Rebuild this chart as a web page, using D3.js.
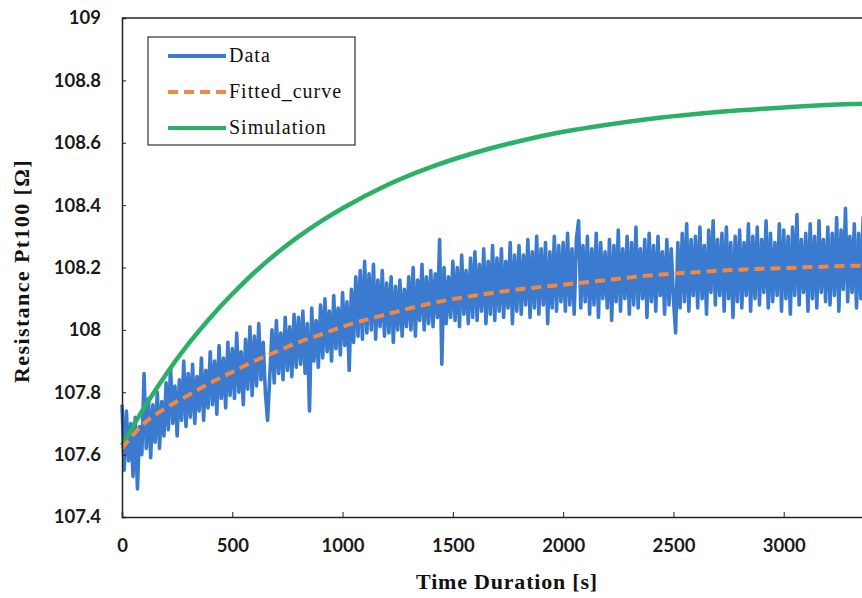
<!DOCTYPE html>
<html>
<head>
<meta charset="utf-8">
<script src="https://cdn.jsdelivr.net/npm/d3@7"></script>
<style>
  body { margin: 0; background: #fff; overflow: hidden; }
  svg { display: block; }
  .tick text { font-family: Lato, "Open Sans", sans-serif; font-weight: bold; font-size: 18.5px; fill: #1a1a1a; }
  .title { font-family: "Liberation Serif", "DejaVu Serif", serif; font-weight: bold; font-size: 22px; fill: #111; }
  .legend text { font-family: "Liberation Serif", "DejaVu Serif", serif; font-size: 20px; letter-spacing: 1px; fill: #111; }
</style>
</head>
<body>
<script>
// chart size
const w = 862
const h = 598

// x ticks and y ticks
const xTicks = [0, 500, 1000, 1500, 2000, 2500, 3000]
const yTicks = [107.4, 107.6, 107.8, 108, 108.2, 108.4, 108.6, 108.8, 109]

// measured data, one value every 10 s starting at 0
const dataStep = 10
const dataValues = [
  107.76, 107.55, 107.74, 107.58, 107.70, 107.53, 107.72, 107.49, 107.69, 107.60,
  107.86, 107.62, 107.78, 107.59, 107.76, 107.64, 107.80, 107.62, 107.77, 107.66,
  107.83, 107.68, 107.88, 107.70, 107.82, 107.66, 107.84, 107.71, 107.90, 107.69,
  107.86, 107.72, 107.89, 107.70, 107.85, 107.74, 107.91, 107.71, 107.87, 107.75,
  107.93, 107.76, 107.90, 107.73, 107.95, 107.78, 107.91, 107.75, 107.96, 107.79,
  107.94, 107.78, 107.99, 107.80, 107.93, 107.76, 107.97, 107.81, 108.01, 107.79,
  107.98, 107.82, 108.02, 107.84, 107.96, 107.80, 107.71, 107.85, 108.00, 107.83,
  108.03, 107.86, 107.99, 107.84, 108.04, 107.87, 108.01, 107.85, 108.05, 107.88,
  108.04, 107.89, 108.06, 107.86, 108.02, 107.74, 108.07, 107.90, 108.03, 107.88,
  108.08, 107.91, 108.10, 107.93, 108.06, 107.90, 108.11, 107.94, 108.07, 107.92,
  108.12, 107.95, 108.09, 107.87, 108.13, 107.96, 108.17, 107.98, 108.19, 107.97,
  108.22, 107.99, 108.18, 108.00, 108.21, 107.97, 108.16, 108.01, 108.19, 107.98,
  108.15, 107.99, 108.17, 107.96, 108.14, 108.00, 108.16, 107.98, 108.13, 108.01,
  108.17, 108.00, 108.20, 107.98, 108.16, 108.03, 108.21, 108.00, 108.17, 108.02,
  108.19, 108.01, 108.18, 108.04, 108.29, 107.89, 108.20, 108.02, 108.17, 108.04,
  108.22, 108.03, 108.20, 108.01, 108.24, 108.05, 108.19, 108.02, 108.23, 108.04,
  108.25, 108.03, 108.21, 108.06, 108.26, 108.02, 108.22, 108.05, 108.27, 108.03,
  108.23, 108.06, 108.26, 108.04, 108.22, 108.07, 108.28, 108.02, 108.24, 108.06,
  108.27, 108.05, 108.24, 108.08, 108.29, 108.04, 108.25, 108.07, 108.30, 108.05,
  108.26, 108.08, 108.28, 108.02, 108.25, 108.07, 108.30, 108.06, 108.27, 108.09,
  108.28, 108.06, 108.31, 108.08, 108.26, 108.05, 108.29, 108.35, 108.07, 108.27,
  108.09, 108.30, 108.05, 108.26, 108.08, 108.31, 108.04, 108.28, 108.10, 108.25,
  108.07, 108.29, 108.03, 108.27, 108.09, 108.32, 108.06, 108.26, 108.10, 108.30,
  108.05, 108.28, 108.08, 108.33, 108.07, 108.26, 108.10, 108.29, 108.04, 108.31,
  108.09, 108.27, 108.06, 108.30, 108.11, 108.25, 108.05, 108.29, 108.08, 108.26,
  108.10, 107.99, 108.28, 108.07, 108.31, 108.09, 108.34, 108.06, 108.29, 108.11,
  108.30, 108.07, 108.33, 108.10, 108.27, 108.05, 108.32, 108.12, 108.35, 108.08,
  108.29, 108.11, 108.31, 108.06, 108.33, 108.10, 108.28, 108.04, 108.30, 108.09,
  108.32, 108.07, 108.28, 108.11, 108.34, 108.06, 108.30, 108.10, 108.33, 108.08,
  108.29, 108.12, 108.35, 108.07, 108.31, 108.09, 108.28, 108.11, 108.34, 108.06,
  108.32, 108.10, 108.30, 108.05, 108.33, 108.11, 108.37, 108.08, 108.29, 108.12,
  108.31, 108.06, 108.34, 108.10, 108.30, 108.07, 108.35, 108.12, 108.29, 108.09,
  108.33, 108.08, 108.31, 108.11, 108.36, 108.06, 108.32, 108.13, 108.39, 108.09,
  108.30, 108.12, 108.34, 108.07, 108.31, 108.10, 108.36, 108.13, 108.32, 108.08,
  108.33
]

// fitted curve and simulation
const curveTimes = [0, 100, 200, 300, 400, 500, 600, 700, 800, 900, 1000, 1200, 1400, 1600, 1800, 2000, 2200, 2400, 2600, 2800, 3000, 3200, 3400, 3500]
const fittedValues = [107.62, 107.70, 107.75, 107.79, 107.83, 107.865, 107.90, 107.93, 107.96, 107.985, 108.01, 108.05, 108.085, 108.11, 108.13, 108.145, 108.16, 108.175, 108.185, 108.193, 108.198, 108.203, 108.207, 108.209]
const simValues = [107.63, 107.75, 107.858, 107.954, 108.039, 108.115, 108.184, 108.245, 108.299, 108.347, 108.39, 108.464, 108.522, 108.568, 108.605, 108.635, 108.658, 108.677, 108.692, 108.704, 108.713, 108.721, 108.726, 108.729]

const seriesNames = ['Data', 'Fitted_curve', 'Simulation']
const colors = ['#3a7bcf', '#f5883e', '#2bb068']

// plot area
const plotLeft = 122, plotRight = 894, plotTop = 18, plotBottom = 517
const xScale = d3.scaleLinear().domain([0, 3500]).range([plotLeft, plotRight])
const yScale = d3.scaleLinear().domain([107.4, 109]).range([plotBottom, plotTop])

const svg = d3.select('body').append('svg')
  .attr('width', w)
  .attr('height', h)

const plot = svg.append('g')

const line = d3.line()
  .x(d => xScale(d[0]))
  .y(d => yScale(d[1]))

const dataPts = dataValues.map((v, i) => [i * dataStep, v])
const fitPts = curveTimes.map((t, i) => [t, fittedValues[i]])
const simPts = curveTimes.map((t, i) => [t, simValues[i]])

plot.append('path')
  .datum(dataPts)
  .attr('d', line)
  .attr('fill', 'none')
  .attr('stroke', colors[0])
  .attr('stroke-width', 3.6)
  .attr('stroke-linejoin', 'round')

const smooth = d3.line()
  .curve(d3.curveMonotoneX)
  .x(d => xScale(d[0]))
  .y(d => yScale(d[1]))

plot.append('path')
  .datum(simPts)
  .attr('d', smooth)
  .attr('fill', 'none')
  .attr('stroke', colors[2])
  .attr('stroke-width', 4.5)

plot.append('path')
  .datum(fitPts)
  .attr('d', smooth)
  .attr('fill', 'none')
  .attr('stroke', colors[1])
  .attr('stroke-width', 4)
  .attr('stroke-dasharray', '10,6')

// axes
const yAxis = d3.axisLeft(yScale)
  .tickValues(yTicks)
  .tickSize(-4)
  .tickPadding(21)
  .tickFormat(d3.format('~g'))

svg.append('g')
  .attr('transform', `translate(${plotLeft},0)`)
  .call(yAxis)
  .call(g => g.select('.domain').attr('stroke', '#222').attr('stroke-width', 1.5))
  .call(g => g.selectAll('.tick line').attr('stroke', '#222'))

const xAxis = d3.axisBottom(xScale)
  .tickValues(xTicks)
  .tickSize(-5)
  .tickPadding(22)
  .tickFormat(d3.format('d'))

svg.append('g')
  .attr('transform', `translate(0,${plotBottom})`)
  .call(xAxis)
  .call(g => g.select('.domain').attr('stroke', '#222').attr('stroke-width', 1.5))
  .call(g => g.selectAll('.tick line').attr('stroke', '#222'))

// top frame line
svg.append('line')
  .attr('x1', plotLeft).attr('x2', plotRight)
  .attr('y1', plotTop).attr('y2', plotTop)
  .attr('stroke', '#222').attr('stroke-width', 1.5)

// axis titles
svg.append('text')
  .attr('class', 'title')
  .attr('x', 507)
  .attr('y', 589)
  .attr('text-anchor', 'middle')
  .attr('letter-spacing', '0.8px')
  .text('Time Duration [s]')

svg.append('text')
  .attr('class', 'title')
  .attr('transform', 'translate(29,271) rotate(-90)')
  .attr('text-anchor', 'middle')
  .attr('letter-spacing', '1.4px')
  .text('Resistance Pt100 [Ω]')

// legend
const legend = svg.append('g').attr('class', 'legend')
legend.append('rect')
  .attr('x', 148).attr('y', 37)
  .attr('width', 207).attr('height', 108)
  .attr('fill', '#fff')
  .attr('stroke', '#333')
  .attr('stroke-width', 1.2)

seriesNames.forEach((name, i) => {
  const y = 56 + i * 36
  legend.append('line')
    .attr('x1', 168).attr('x2', 226)
    .attr('y1', y).attr('y2', y)
    .attr('stroke', colors[i])
    .attr('stroke-width', 4)
    .attr('stroke-dasharray', i === 1 ? '10,6' : null)
  legend.append('text')
    .attr('x', 229)
    .attr('y', y + 6)
    .text(name)
})
</script>
</body>
</html>
